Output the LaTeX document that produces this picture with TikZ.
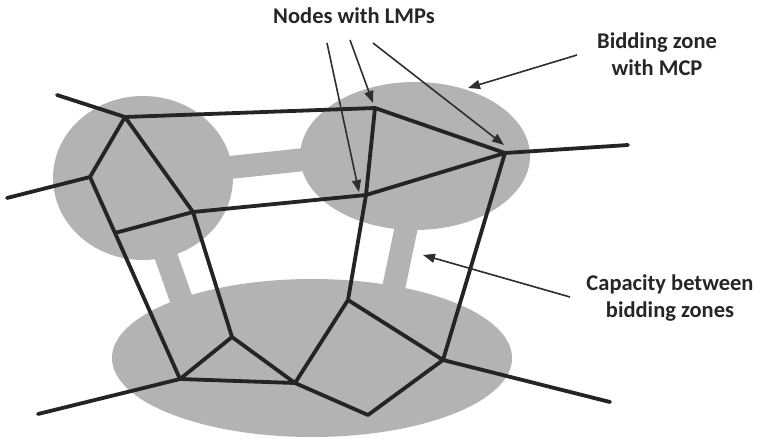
\documentclass[tikz,border=0pt]{standalone}
\usepackage{fontspec}
\setmainfont{Carlito}
\usetikzlibrary{arrows.meta}
\definecolor{zonegray}{HTML}{B3B3B3}
\definecolor{linkblack}{HTML}{242424}
\definecolor{pointergray}{HTML}{2E2E2E}

\begin{document}
\begin{tikzpicture}[x=1pt,y=-1pt]
  \tikzstyle{every node}+=[inner sep=0pt, font=\fontsize{22.5}{27}\selectfont\bfseries, text=black!85]
  \tikzstyle{zone}=[fill=zonegray, draw=none]
  \tikzstyle{tie}=[draw=zonegray, line width=23pt]
  \tikzstyle{grid}=[draw=linkblack, line width=3.8pt, line cap=round, line join=round]
  \tikzstyle{pointer}=[draw=pointergray, line width=1.6pt, -{Triangle[length=12pt,width=9pt]}]
  \useasboundingbox (0,0) rectangle (760,440);

  % bidding zones and the capacity between them
  \draw[tie] (200,170.7) -- (340,155.7);
  \draw[tie] (155,225) -- (185,310);
  \draw[tie] (412,200) -- (389,310);
  \fill[zone] (143,178) ellipse [x radius=90pt, y radius=82pt];
  \fill[zone] (415,156) ellipse [x radius=115pt, y radius=74pt];
  \fill[zone] (312,358) ellipse [x radius=200pt, y radius=79pt];

  % grid nodes
  \coordinate (a) at (125,117);
  \coordinate (b) at (375,108);
  \coordinate (c) at (505,153);
  \coordinate (d) at (90,177);
  \coordinate (e) at (193,212);
  \coordinate (f) at (366,195);
  \coordinate (g) at (115,233);
  \coordinate (h) at (180,379);
  \coordinate (i) at (232,337);
  \coordinate (j) at (295,383);
  \coordinate (k) at (348,300);
  \coordinate (l) at (443,360);
  \coordinate (m) at (368,415);
  % loose line ends
  \coordinate (o1) at (57,95);
  \coordinate (o2) at (7,198);
  \coordinate (o3) at (628,145);
  \coordinate (o4) at (38,414);
  \coordinate (o5) at (610,402);

  \draw[grid] (o1) -- (a) -- (b) -- (c) -- (o3);
  \draw[grid] (o2) -- (d) -- (a) -- (e) -- (f) -- (c) -- (l) -- (o5);
  \draw[grid] (d) -- (g) -- (h) -- (o4);
  \draw[grid] (g) -- (e) -- (i) -- (j) -- (m) -- (l) -- (k) -- (j) -- (h) -- (i);
  \draw[grid] (b) -- (f) -- (k);

  % labels
  \node[anchor=base] (lmps) at (354,23) {Nodes with LMPs};
  \node[align=center] (mcp) at (657,54) {Bidding zone\\with MCP};
  \node[align=center] (capacity) at (670,298) {Capacity between\\bidding zones};

  % pointers
  \coordinate (lmp1) at (327,43);
  \coordinate (lmp2) at (350,40);
  \coordinate (lmp3) at (373,43);
  \coordinate (tip1) at (359,192);
  \coordinate (tip2) at (373,103);
  \coordinate (tip3) at (504,145);
  \draw[pointer] (lmp1) -- (tip1);
  \draw[pointer] (lmp2) -- (tip2);
  \draw[pointer] (lmp3) -- (tip3);
  \coordinate (mcptail) at (577,55);
  \coordinate (mcptip) at (468,88);
  \draw[pointer] (mcptail) -- (mcptip);
  \coordinate (captail) at (570,297);
  \coordinate (captip) at (423,255);
  \draw[pointer] (captail) -- (captip);
\end{tikzpicture}
\end{document}
